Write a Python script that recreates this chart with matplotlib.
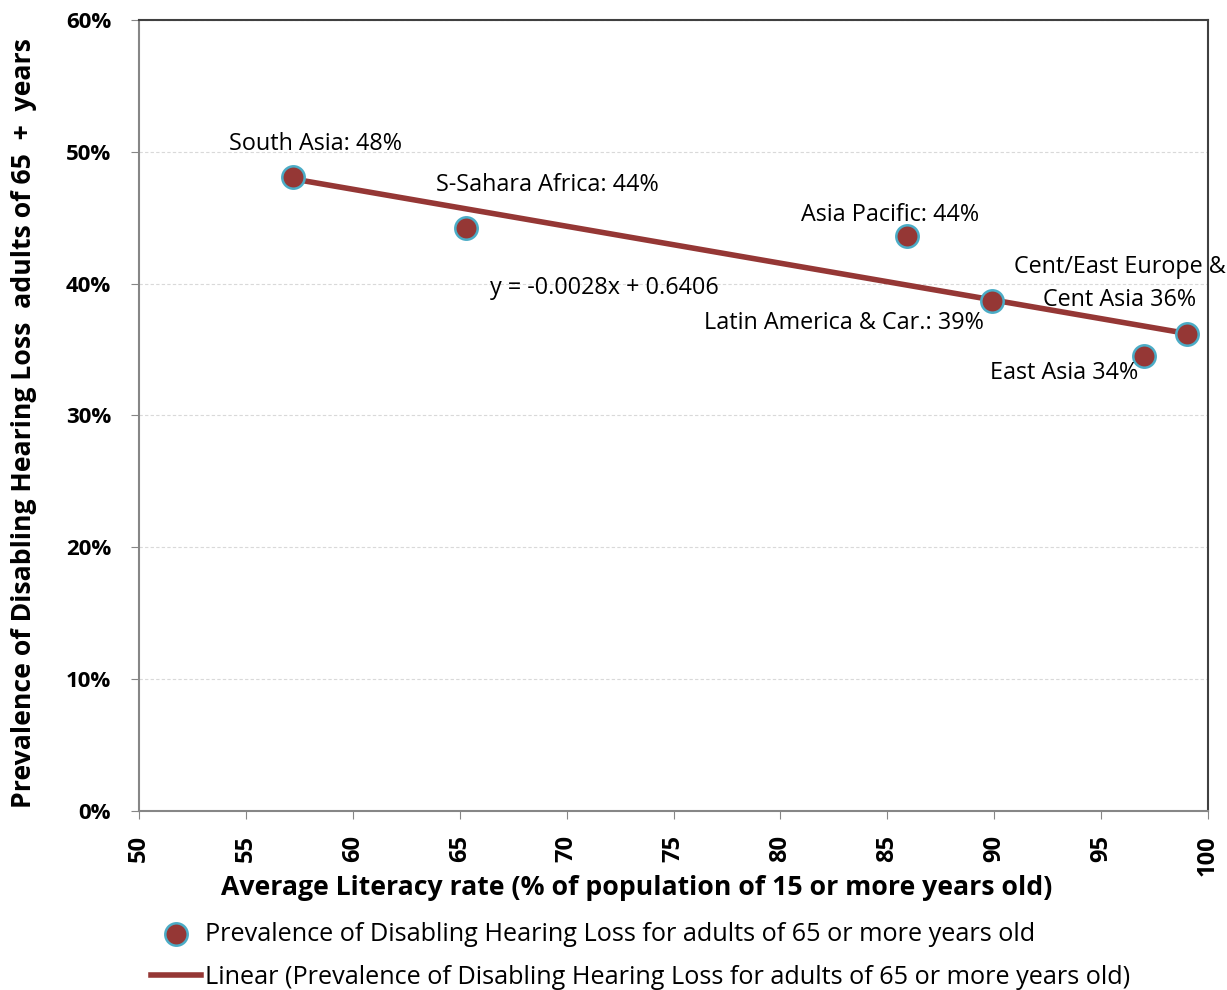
import numpy as np
import matplotlib
matplotlib.use('Agg')
import matplotlib.pyplot as plt
from matplotlib.ticker import FuncFormatter

plt.rcParams['font.family'] = ['Open Sans', 'DejaVu Sans']

regions = ['South Asia: 48%', 'S-Sahara Africa: 44%', 'Asia Pacific: 44%',
           'Latin America & Car.: 39%', 'East Asia 34%', 'Cent/East Europe &\nCent Asia 36%']
literacy = [57.2, 65.3, 85.9, 89.9, 97.0, 99.0]
prevalence = [0.481, 0.442, 0.436, 0.387, 0.345, 0.362]

# label offsets in points (dx, dy) and horizontal alignment
label_pos = [(-46, 24, 'left'), (-21.6, 31, 'left'), (-76, 15.5, 'left'),
             (-5.8, -16, 'right'), (-4.3, -12, 'right'), (-48.2, 36, 'center')]

red = '#953735'

fig = plt.figure(figsize=(12.27, 9.9), dpi=100)
ax = fig.add_axes([139/1227, 1 - 811/990, (1208-139)/1227, (811-20)/990])

slope, intercept = np.polyfit(literacy, prevalence, 1)
xs = np.array([min(literacy), max(literacy)])
line, = ax.plot(xs, slope*xs + intercept, color=red, lw=4, zorder=2,
                label='Linear (Prevalence of Disabling Hearing Loss for adults of 65 or more years old)')
pts = ax.scatter(literacy, prevalence, s=260, color=red, edgecolors='#4bacc6', linewidths=1.8, zorder=3,
                 label='Prevalence of Disabling Hearing Loss for adults of 65 or more years old')

for (name, x, y), (dx, dy, ha) in zip(zip(regions, literacy, prevalence), label_pos):
    ax.annotate(name, (x, y), xytext=(dx, dy), textcoords='offset points',
                ha=ha, va='center', multialignment='center',
                fontsize=16.8, linespacing=1.5)

ax.text(66.42, 0.3965, 'y = -0.0028x + 0.6406', fontsize=16.8, ha='left', va='center')

ax.set_xlim(50, 100)
ax.set_ylim(0, 0.6)
ax.set_xticks(range(50, 101, 5))
ax.set_yticks(np.arange(0, 0.61, 0.1))
ax.yaxis.set_major_formatter(FuncFormatter(lambda v, p: f'{v*100:.0f}%'))
ax.grid(axis='y', color='#d9d9d9', linestyle=(0, (3, 2)), lw=0.8)
ax.set_axisbelow(True)

for lab in ax.get_xticklabels():
    lab.set_rotation(90)
    lab.set_fontweight('bold')
    lab.set_fontsize(17)
for lab in ax.get_yticklabels():
    lab.set_fontweight('bold')
    lab.set_fontsize(16)
ax.tick_params(axis='both', length=6, color='#868686', direction='out')
ax.tick_params(axis='x', pad=11.5)
ax.tick_params(axis='y', pad=14)

for s in ['left', 'bottom']:
    ax.spines[s].set_color('#868686')
    ax.spines[s].set_linewidth(1.5)
for s in ['top', 'right']:
    ax.spines[s].set_color('#404040')
    ax.spines[s].set_linewidth(1.5)

ax.set_xlabel('Average Literacy rate (% of population of 15 or more years old)',
              fontsize=19.2, fontweight='bold')
ax.xaxis.set_label_coords(0.466, -0.081)
ax.xaxis.label.set_va('top')
ax.set_ylabel('Prevalence of Disabling Hearing Loss  adults of 65  +  years',
              fontsize=19.2, fontweight='bold')
ax.yaxis.set_label_coords(-0.0954, 0.49)

fig.legend(handles=[pts, line], loc='upper left', bbox_to_anchor=(0.123, 0.069),
           frameon=False, fontsize=18.2, handlelength=2.0, handletextpad=0.15,
           labelspacing=0.73, scatterpoints=1, borderaxespad=0, borderpad=0)

fig.savefig('out.png', dpi=100)
